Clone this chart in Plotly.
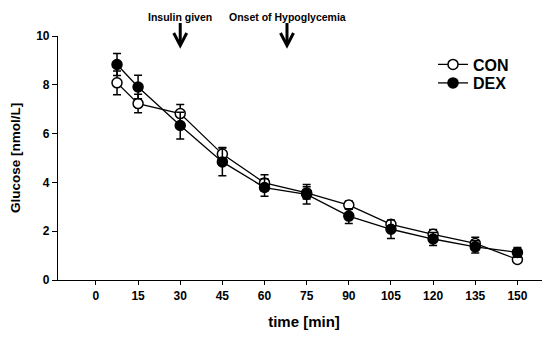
import plotly.graph_objects as go

# ---- data ----
time_min = [7.5, 15, 30, 45, 60, 75, 90, 105, 120, 135, 150]
con_mean = [8.08, 7.23, 6.82, 5.16, 3.98, 3.57, 3.07, 2.28, 1.87, 1.50, 0.84]
con_err = [0.49, 0.38, 0.37, 0.27, 0.33, 0.25, 0.17, 0.15, 0.20, 0.25, 0.12]
dex_mean = [8.83, 7.91, 6.33, 4.84, 3.79, 3.51, 2.62, 2.08, 1.68, 1.36, 1.13]
dex_err = [0.45, 0.48, 0.55, 0.57, 0.36, 0.40, 0.30, 0.38, 0.27, 0.25, 0.20]
x_ticks = [0, 15, 30, 45, 60, 75, 90, 105, 120, 135, 150]
y_ticks = [0, 2, 4, 6, 8, 10]
event_times = [30, 68]
event_labels = ["Insulin given", "Onset of Hypoglycemia"]

FONT = "Liberation Sans"
OFF = 8                      # default page (body) margin of the html page
WIN_W, WIN_H = 550, 341
W, H = WIN_W - OFF, WIN_H - OFF
M = dict(l=58 - OFF, r=0, t=36 - OFF, b=WIN_H - 280)
plot_h = H - M["t"] - M["b"]
plot_w = W - M["l"] - M["r"]
x_range = [-13.5, 161.6]
px_per_min = plot_w / (x_range[1] - x_range[0])

def wy_to_paper(wy):          # window pixel y -> paper fraction
    return (H - M["b"] - (wy - OFF)) / plot_h

def wx_to_paper(wx):
    return ((wx - OFF) - M["l"]) / plot_w

fig = go.Figure()
fig.add_trace(go.Scatter(
    x=time_min, y=con_mean, name="CON", mode="lines+markers", legend="legend",
    line=dict(color="black", width=1.3),
    marker=dict(symbol="circle", size=10, color="white", line=dict(color="black", width=1.5)),
    error_y=dict(type="data", array=con_err, color="black", thickness=1.5, width=4),
))
fig.add_trace(go.Scatter(
    x=time_min, y=dex_mean, name="DEX", mode="lines+markers", legend="legend2",
    line=dict(color="black", width=1.3),
    marker=dict(symbol="circle", size=10, color="black", line=dict(color="black", width=1.5)),
    error_y=dict(type="data", array=dex_err, color="black", thickness=1.5, width=4),
))

shapes = []
annotations = []
for t, lab in zip(event_times, event_labels):
    dx = 6.5 / px_per_min
    shapes.append(dict(type="line", xref="x", yref="paper", x0=t, x1=t,
                       y0=wy_to_paper(23), y1=wy_to_paper(45),
                       line=dict(color="black", width=3)))
    shapes.append(dict(type="path", xref="x", yref="paper",
                       path=f"M {t-dx},{wy_to_paper(33)} L {t},{wy_to_paper(45.5)} L {t+dx},{wy_to_paper(33)}",
                       line=dict(color="black", width=3)))
    annotations.append(dict(x=t, y=wy_to_paper(8.5), xref="x", yref="paper", text=lab,
                            showarrow=False, xanchor="center", yanchor="top",
                            font=dict(family=FONT, size=10.5, color="black", weight="bold")))

legend_font = dict(family=FONT, size=16, color="black", weight="bold")
fig.update_layout(
    width=W, height=H, margin=dict(M, autoexpand=False),
    paper_bgcolor="white", plot_bgcolor="white",
    font=dict(family=FONT, color="black"),
    shapes=shapes, annotations=annotations,
    showlegend=True,
    legend=dict(x=wx_to_paper(433), y=wy_to_paper(64.5), xanchor="left", yanchor="middle",
                font=legend_font, bgcolor="rgba(0,0,0,0)"),
    legend2=dict(x=wx_to_paper(433), y=wy_to_paper(83), xanchor="left", yanchor="middle",
                 font=legend_font, bgcolor="rgba(0,0,0,0)"),
    xaxis=dict(range=x_range, tickvals=x_ticks, ticktext=[str(v) for v in x_ticks],
               automargin=False,
               showline=True, linecolor="black", linewidth=1.2,
               ticks="outside", ticklen=4, tickwidth=1.2, tickcolor="black",
               showgrid=False, zeroline=False,
               tickfont=dict(family=FONT, size=12, color="black", weight="bold"),
               title=dict(text="time [min]", standoff=14,
                          font=dict(family=FONT, size=15, color="black", weight="bold"))),
    yaxis=dict(range=[0, 10], tickvals=y_ticks, automargin=False,
               showline=True, linecolor="black", linewidth=1.2,
               ticks="outside", ticklen=5, tickwidth=1.2, tickcolor="black",
               showgrid=False, zeroline=False,
               tickfont=dict(family=FONT, size=12, color="black", weight="bold"),
               title=dict(text="Glucose [nmol/L]", standoff=13,
                          font=dict(family=FONT, size=13.5, color="black", weight="bold"))),
)

fig.write_html("out.html")
